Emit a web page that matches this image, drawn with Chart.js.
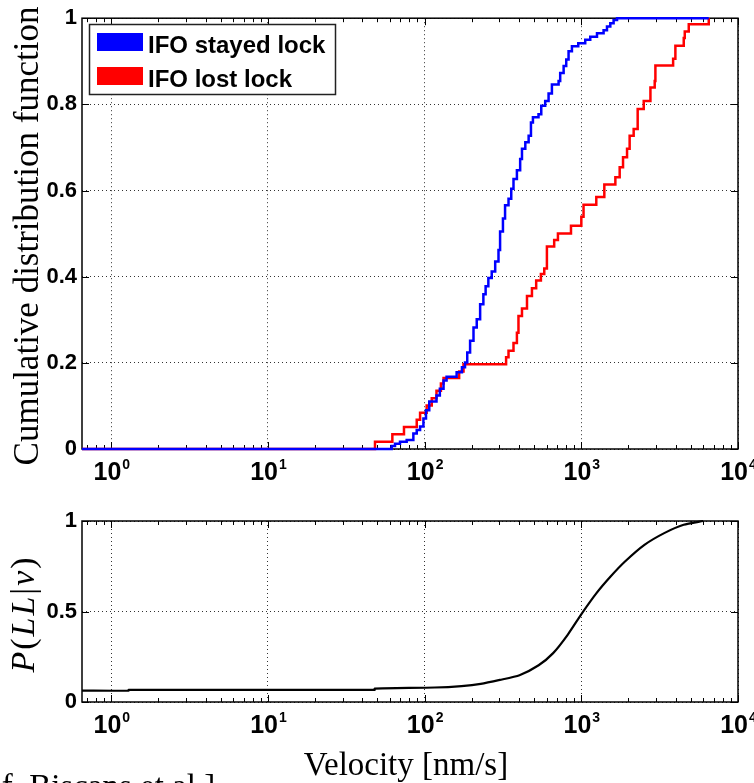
<!DOCTYPE html>
<html>
<head>
<meta charset="utf-8">
<script src="https://cdn.jsdelivr.net/npm/chart.js@4.4.1/dist/chart.umd.min.js"></script>
<style>
  html, body { margin: 0; padding: 0; background: #fff; }
  body { position: relative; width: 754px; height: 783px; overflow: hidden; }
  canvas { position: absolute; left: 0; }
  #cdf { top: 0; }
  #pll { top: 500px; }
  #caption {
    position: absolute; left: -46px; top: 770px;
    font: 33px/33px "Liberation Serif", "Times New Roman", serif;
    white-space: nowrap; color: #000;
  }
</style>
</head>
<body>
<canvas id="cdf" width="754" height="500"></canvas>
<canvas id="pll" width="754" height="283"></canvas>
<div id="caption">[Ref. Biscans et al.]</div>
<script>
// velocity in nm/s, CDF after each step
const blueVelocity = [0.65, 61.6, 64.7, 69.6, 76.8, 84.7, 89, 93.5, 98.2, 102, 107, 119, 125, 132, 138,
  160, 173, 181, 187, 195, 205, 215, 226, 237, 245, 255, 268, 282, 296, 303, 316, 326, 343, 357, 369,
  388, 407, 418, 439, 461, 477, 491, 533, 555, 588, 618, 649, 716, 733, 771, 801, 829, 871, 956, 1059,
  1140, 1259, 1387, 1458, 1531, 1607, 1690, 6506];
const blueCdf = [0, 0.007, 0.012, 0.017, 0.021, 0.036, 0.044, 0.052, 0.071, 0.09, 0.11, 0.124, 0.14, 0.159, 0.168,
  0.178, 0.19, 0.201, 0.224, 0.251, 0.282, 0.301, 0.336, 0.359, 0.378, 0.397, 0.412, 0.435, 0.462, 0.505, 0.535, 0.566, 0.581, 0.604, 0.627,
  0.647, 0.673, 0.697, 0.712, 0.727, 0.758, 0.77, 0.777, 0.797, 0.808, 0.825, 0.846, 0.854, 0.873, 0.889, 0.904, 0.923, 0.935, 0.942, 0.95,
  0.957, 0.965, 0.972, 0.981, 0.988, 0.996, 1, 1];

const redVelocity = [0.65, 48.2, 62.2, 73.8, 89, 93.5, 103, 111, 119, 127, 132, 166, 177, 331, 343, 369, 388,
  397, 418, 450, 484, 515, 552, 580, 603, 671, 709, 859, 1000, 1033, 1246, 1402, 1649, 1757, 1846, 1958,
  2034, 2158, 2289, 2502, 2761, 2940, 2970, 3854, 3984, 4505, 4573, 4850, 6506];
const redCdf = [0, 0.017, 0.034, 0.051, 0.068, 0.084, 0.101, 0.118, 0.135, 0.152, 0.165, 0.18, 0.197, 0.213, 0.228, 0.246, 0.27,
  0.309, 0.326, 0.355, 0.373, 0.391, 0.406, 0.419, 0.47, 0.485, 0.5, 0.518, 0.539, 0.567, 0.585, 0.614, 0.631, 0.654, 0.677, 0.697,
  0.727, 0.743, 0.789, 0.808, 0.839, 0.854, 0.89, 0.906, 0.936, 0.954, 0.969, 0.986, 1];

// P(LL|v)
const pllVelocity = [0.65, 1.29, 1.29, 48, 48, 116, 172, 228, 302, 403, 534, 661, 818, 1004, 1246, 1537, 1900, 2528, 3381, 4500, 5990];
const pllValue = [0.0625, 0.0625, 0.067, 0.067, 0.074, 0.08, 0.088, 0.1, 0.122, 0.148, 0.203, 0.27, 0.371, 0.487, 0.6, 0.693, 0.776, 0.868, 0.933, 0.979, 1.0];

const seriesLabels = ["IFO stayed lock", "IFO lost lock"];
const seriesColors = ["#0000ff", "#ff0000"];

const xDecades = [0, 1, 2, 3, 4];
const xMin = 0.65, xMax = 1e4;
const cdfTicks = [0, 0.2, 0.4, 0.6, 0.8, 1];
const pllTicks = [0, 0.5, 1];

const SANS = '"Liberation Sans", Arial, sans-serif';
const SERIF = '"Liberation Serif", "Times New Roman", serif';

const pts = (xs, ys) => xs.map((x, i) => ({ x, y: ys[i] }));

// minor ticks 2..9 per decade, plus the decades
const minorTicks = [];
for (let d = -1; d <= 3; d++) for (let k = 1; k <= 9; k++) minorTicks.push(k * Math.pow(10, d));
minorTicks.push(1e4);

function logAxis(height) {
  return {
    type: "logarithmic", min: xMin, max: xMax,
    afterBuildTicks: s => { s.ticks = xDecades.map(d => ({ value: Math.pow(10, d) })); },
    afterFit: s => { s.height = height; },
    ticks: { display: false },
    grid: { color: "#333", lineWidth: 1, drawTicks: false },
    border: { display: false, dash: [1, 3] }
  };
}

function linAxis(ticks) {
  return {
    type: "linear", min: 0, max: 1,
    afterBuildTicks: s => { s.ticks = ticks.map(v => ({ value: v })); },
    afterFit: s => { s.width = 82; },
    ticks: { padding: 5, color: "#000", font: { family: SANS, weight: "bold", size: 22 }, callback: v => String(v) },
    grid: { color: "#333", lineWidth: 1, drawTicks: false },
    border: { display: false, dash: [1, 3] }
  };
}

function drawRotated(ctx, text, font, x, y) {
  ctx.save();
  ctx.translate(x, y);
  ctx.rotate(-Math.PI / 2);
  ctx.font = font;
  ctx.textAlign = "center";
  ctx.textBaseline = "alphabetic";
  ctx.fillText(text, 0, 0);
  ctx.restore();
}

// box, inward ticks and 10^n labels, MATLAB style
const frame = {
  id: "frame",
  beforeDatasetsDraw(chart) {
    const { ctx, chartArea: a, scales: { x, y } } = chart;
    ctx.save();
    ctx.strokeStyle = "#000";
    ctx.lineWidth = 1;
    ctx.beginPath();
    minorTicks.forEach(v => {
      if (v < x.min || v > x.max) return;
      const px = Math.round(x.getPixelForValue(v)) + 0.5;
      const len = Number.isInteger(Math.log10(v)) ? 7 : 4;
      ctx.moveTo(px, a.bottom); ctx.lineTo(px, a.bottom - len);
      ctx.moveTo(px, a.top); ctx.lineTo(px, a.top + len);
    });
    y.ticks.forEach(t => {
      const py = Math.round(y.getPixelForValue(t.value)) + 0.5;
      ctx.moveTo(a.left, py); ctx.lineTo(a.left + 7, py);
      ctx.moveTo(a.right, py); ctx.lineTo(a.right - 7, py);
    });
    ctx.stroke();
    ctx.lineWidth = 1.5;
    ctx.strokeRect(a.left, a.top, a.right - a.left, a.bottom - a.top);

    ctx.fillStyle = "#000";
    ctx.textBaseline = "alphabetic";
    xDecades.forEach(d => {
      const px = x.getPixelForValue(Math.pow(10, d));
      ctx.font = `bold 25px ${SANS}`;
      const wBase = ctx.measureText("10").width;
      ctx.font = `bold 14px ${SANS}`;
      const wExp = ctx.measureText(String(d)).width;
      const left = px - (wBase + wExp) / 2;
      ctx.font = `bold 25px ${SANS}`;
      ctx.fillText("10", left, a.bottom + 31);
      ctx.font = `bold 14px ${SANS}`;
      ctx.fillText(String(d), left + wBase + 1, a.bottom + 20);
    });
    ctx.restore();
  }
};

const legendBox = {
  id: "legendBox",
  afterDatasetsDraw(chart) {
    const { ctx } = chart;
    ctx.save();
    ctx.fillStyle = "#fff";
    ctx.fillRect(89, 24, 246, 70);
    ctx.strokeStyle = "#222";
    ctx.lineWidth = 1.5;
    ctx.strokeRect(89.5, 24.5, 246, 70);
    ctx.font = `bold 24px ${SANS}`;
    ctx.textBaseline = "alphabetic";
    seriesLabels.forEach((lab, i) => {
      const top = 33 + i * 34;
      ctx.fillStyle = seriesColors[i];
      ctx.fillRect(97, top, 46, 18);
      ctx.fillStyle = "#000";
      ctx.fillText(lab, 148, top + 20);
    });
    ctx.restore();
  }
};

const cdfTitles = {
  id: "cdfTitles",
  afterDraw(chart) {
    const { ctx } = chart;
    ctx.fillStyle = "#000";
    drawRotated(ctx, "Cumulative distribution function", `35px ${SERIF}`, 38, 236);
  }
};

const pllTitles = {
  id: "pllTitles",
  afterDraw(chart) {
    const { ctx } = chart;
    ctx.save();
    ctx.fillStyle = "#000";
    ctx.font = `33px ${SERIF}`;
    ctx.textAlign = "center";
    ctx.fillText("Velocity [nm/s]", 406, 275);
    // P(LL|v), math italic
    const parts = [["P", "italic"], ["(", "normal"], ["L", "italic"], ["L", "italic"], ["|", "normal"], ["v", "italic"], [")", "normal"]];
    const size = 34, gap = 2;
    let total = 0;
    const widths = parts.map(([c, st]) => {
      ctx.font = `${st} ${size}px ${SERIF}`;
      const w = ctx.measureText(c).width;
      total += w + gap;
      return w;
    });
    total -= gap;
    ctx.translate(34, 115);
    ctx.rotate(-Math.PI / 2);
    ctx.textAlign = "left";
    let cx = -total / 2;
    parts.forEach(([c, st], i) => {
      ctx.font = `${st} ${size}px ${SERIF}`;
      ctx.fillText(c, cx, 0);
      cx += widths[i] + gap;
    });
    ctx.restore();
  }
};

const common = {
  responsive: false,
  animation: false,
  events: [],
  plugins: { legend: { display: false }, tooltip: { enabled: false } },
  elements: { point: { radius: 0 } }
};

new Chart(document.getElementById("cdf"), {
  type: "line",
  data: {
    datasets: [
      { label: seriesLabels[0], data: pts(blueVelocity, blueCdf), borderColor: seriesColors[0], borderWidth: 2.5, stepped: "before", fill: false, clip: 4 },
      { label: seriesLabels[1], data: pts(redVelocity, redCdf), borderColor: seriesColors[1], borderWidth: 2.5, stepped: "before", fill: false, clip: 4 }
    ]
  },
  options: {
    ...common,
    layout: { padding: { left: 0, right: 16, top: 15, bottom: 0 } },
    scales: { x: logAxis(51), y: linAxis(cdfTicks) }
  },
  plugins: [frame, legendBox, cdfTitles]
});

new Chart(document.getElementById("pll"), {
  type: "line",
  data: {
    datasets: [
      { label: "P(LL|v)", data: pts(pllVelocity, pllValue), borderColor: "#000", borderWidth: 2.2, tension: 0.2, fill: false, clip: 4 }
    ]
  },
  options: {
    ...common,
    layout: { padding: { left: 0, right: 16, top: 21, bottom: 0 } },
    scales: { x: logAxis(81), y: linAxis(pllTicks) }
  },
  plugins: [frame, pllTitles]
});
</script>
</body>
</html>
